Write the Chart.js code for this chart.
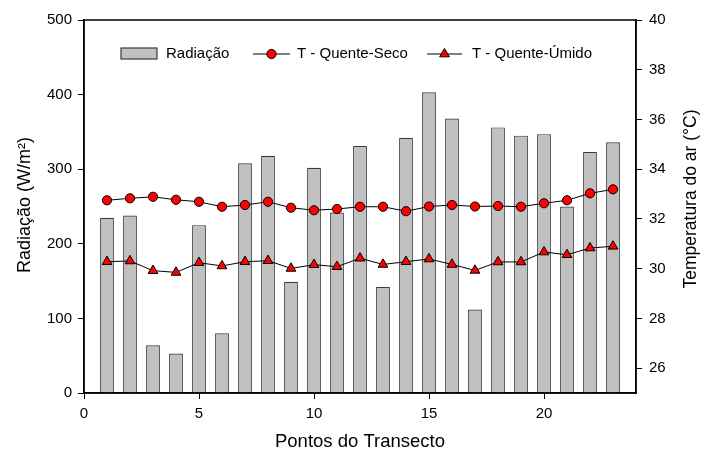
<!DOCTYPE html>
<html>
<head>
<meta charset="utf-8">
<script src="https://cdn.jsdelivr.net/npm/chart.js@4/dist/chart.umd.min.js"></script>
<style>
html,body{margin:0;padding:0;background:#fff;}
#wrap{width:702px;height:452px;position:relative;}
</style>
</head>
<body>
<div id="wrap"><canvas id="c" width="702" height="452"></canvas></div>
<script>
const pontos = [1,2,3,4,5,6,7,8,9,10,11,12,13,14,15,16,17,18,19,20,21,22,23];
const radiacao = [235,238,64,53,225,80,308,318,149,302,242,331,142,342,403,368,112,356,345,347,250,323,336];
const tQuenteSeco = [32.75,32.83,32.89,32.77,32.69,32.49,32.56,32.69,32.45,32.35,32.40,32.49,32.49,32.31,32.50,32.56,32.50,32.52,32.49,32.63,32.75,33.03,33.19];
const tQuenteUmido = [30.28,30.31,29.92,29.85,30.24,30.11,30.28,30.32,30.01,30.16,30.08,30.42,30.17,30.28,30.39,30.17,29.93,30.27,30.27,30.67,30.56,30.83,30.90];
const xTitle = 'Pontos do Transecto';
const yLeftTitle = 'Radiação (W/m²)';
const yRightTitle = 'Temperatura do ar (°C)';
const seriesLabels = ['Radiação','T - Quente-Seco','T - Quente-Úmido'];

const FONT = '"Liberation Sans", Arial, sans-serif';
const pts = arr => pontos.map((x,i)=>({x:x,y:arr[i]}));

const framePlugin = {
  id:'frame',
  afterDraw(chart){
    const ctx = chart.ctx, a = chart.chartArea;
    ctx.save();
    ctx.strokeStyle = '#000'; ctx.lineWidth = 1.5;
    ctx.strokeRect(a.left, a.top, a.right-a.left, a.bottom-a.top);
    // axis titles
    ctx.fillStyle = '#000';
    ctx.textAlign = 'center'; ctx.textBaseline = 'middle';
    ctx.font = '18.5px ' + FONT;
    ctx.fillText(xTitle, 360, 442);
    ctx.font = '18px ' + FONT;
    ctx.save(); ctx.translate(25, 205); ctx.rotate(-Math.PI/2);
    ctx.fillText(yLeftTitle, 0, 0); ctx.restore();
    ctx.font = '17.5px ' + FONT;
    ctx.save(); ctx.translate(691, 199); ctx.rotate(-Math.PI/2);
    ctx.fillText(yRightTitle, 0, 0); ctx.restore();
    // legend
    ctx.font = '15px ' + FONT;
    ctx.textAlign = 'left';
    const ly = 54;
    const ds = chart.data.datasets;
    ctx.fillStyle = ds[0].backgroundColor; ctx.strokeStyle = ds[0].borderColor; ctx.lineWidth = 1.2;
    ctx.fillRect(121, 48, 36, 11); ctx.strokeRect(121, 48, 36, 11);
    ctx.fillStyle = '#000'; ctx.fillText(ds[0].label, 166, ly);
    const drawEntry = (d, x0, x1, tx) => {
      ctx.strokeStyle = '#000'; ctx.lineWidth = 1;
      ctx.beginPath(); ctx.moveTo(x0, ly); ctx.lineTo(x1, ly); ctx.stroke();
      ctx.fillStyle = d.pointBackgroundColor; ctx.strokeStyle = d.pointBorderColor; ctx.lineWidth = 1;
      Chart.helpers.drawPoint(ctx, {pointStyle: d.pointStyle, radius: d.pointRadius, borderWidth: 1, rotation: 0}, (x0+x1)/2, ly);
      ctx.fillStyle = '#000'; ctx.fillText(d.label, tx, ly);
    };
    drawEntry(ds[1], 253, 290, 297);
    drawEntry(ds[2], 427, 462, 472);
    ctx.restore();
  }
};

new Chart(document.getElementById('c'), {
  data: {
    datasets: [
      {type:'bar', label: seriesLabels[0], data: pts(radiacao), yAxisID:'y',
       backgroundColor:'#c0c0c0', borderColor:'#3a3a3a', borderWidth:1.2,
       barPercentage:0.6, categoryPercentage:1.0, order:3},
      {type:'line', label: seriesLabels[1], data: pts(tQuenteSeco), yAxisID:'y2',
       borderColor:'#000', borderWidth:1, pointStyle:'circle', pointRadius:4.6,
       pointBackgroundColor:'#ff0000', pointBorderColor:'#000', pointBorderWidth:1, order:1},
      {type:'line', label: seriesLabels[2], data: pts(tQuenteUmido), yAxisID:'y2',
       borderColor:'#000', borderWidth:1, pointStyle:'triangle', pointRadius:5.6,
       pointBackgroundColor:'#ff0000', pointBorderColor:'#000', pointBorderWidth:1, order:2}
    ]
  },
  options: {
    responsive:false, animation:false, devicePixelRatio:1,
    layout:{padding:{top:20,left:0,right:0,bottom:0}},
    plugins:{legend:{display:false}, tooltip:{enabled:false}},
    scales:{
      x:{type:'linear', position:'bottom', min:0, max:24, offset:false,
         ticks:{stepSize:5, includeBounds:false, color:'#000', font:{family:FONT,size:15}, padding:6, maxRotation:0},
         grid:{offset:false, drawOnChartArea:false, drawTicks:true, tickLength:6, color:'#000', lineWidth:1},
         border:{display:true, color:'#000', width:1.5},
         afterFit(s){ s.height = 59; }},
      y:{type:'linear', position:'left', min:0, max:500,
         ticks:{stepSize:100, color:'#000', font:{family:FONT,size:15}, padding:6},
         grid:{drawOnChartArea:false, drawTicks:true, tickLength:6, color:'#000', lineWidth:1},
         border:{display:true, color:'#000', width:1.5},
         afterFit(s){ s.width = 84; }},
      y2:{type:'linear', position:'right', min:25, max:40,
         ticks:{stepSize:2, includeBounds:false, color:'#000', font:{family:FONT,size:15}, padding:7},
         grid:{drawOnChartArea:false, drawTicks:true, tickLength:6, color:'#000', lineWidth:1},
         border:{display:true, color:'#000', width:1.5},
         afterFit(s){ s.width = 66; }}
    }
  },
  plugins:[framePlugin]
});
</script>
</body>
</html>
